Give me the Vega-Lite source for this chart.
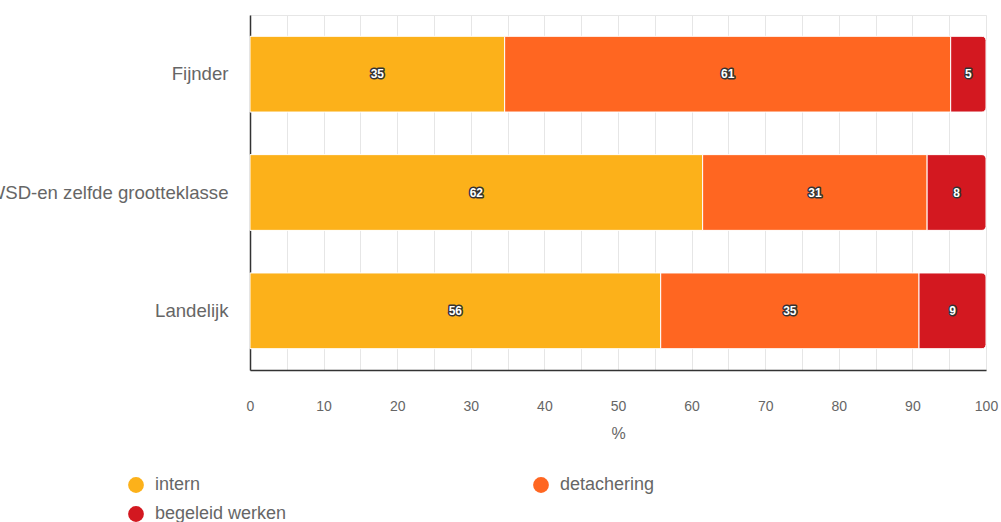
{
  "$schema": "https://vega.github.io/schema/vega-lite/v6.json",
  "width": 736,
  "height": 355,
  "autosize": {"type": "none"},
  "padding": {"left": 250, "top": 15, "right": 15, "bottom": 152},
  "background": "white",
  "config": {
    "font": "Liberation Sans",
    "view": {"stroke": "#e6e6e6", "strokeWidth": 1},
    "axisX": {
      "title": "%",
      "values": [0,2,4,6,8,10,12,14,16,18,20,22,24,26,28,30,32,34,36,38,40,42,44,46,48,50,52,54,56,58,60,62,64,66,68,70,72,74,76,78,80,82,84,86,88,90,92,94,96,98,100],
      "labelExpr": "datum.value % 10 === 0 ? datum.label : ''",
      "tickOpacity": {"condition": {"test": "datum.value % 10 === 0", "value": 1}, "value": 0},
      "tickColor": "#333333",
      "tickSize": 13,
      "tickWidth": 1.5,
      "domainColor": "#333333",
      "domainWidth": 1.5,
      "grid": true,
      "gridColor": "#e6e6e6",
      "labelFontSize": 14,
      "labelColor": "#666666",
      "labelPadding": 16,
      "labelFlush": false,
      "labelOverlap": false,
      "titleFontSize": 16,
      "titleFontWeight": "normal",
      "titleColor": "#666666",
      "titlePadding": 12
    }
  },
  "data": {
    "values": [
      {"cat": "Fijnder", "type": "intern", "value": 34.6},
      {"cat": "Fijnder", "type": "detachering", "value": 60.6},
      {"cat": "Fijnder", "type": "begeleid werken", "value": 4.8},
      {"cat": "WSD-en zelfde grootteklasse", "type": "intern", "value": 61.5},
      {"cat": "WSD-en zelfde grootteklasse", "type": "detachering", "value": 30.5},
      {"cat": "WSD-en zelfde grootteklasse", "type": "begeleid werken", "value": 8.0},
      {"cat": "Landelijk", "type": "intern", "value": 55.8},
      {"cat": "Landelijk", "type": "detachering", "value": 35.1},
      {"cat": "Landelijk", "type": "begeleid werken", "value": 9.1}
    ]
  },
  "transform": [
    {"stack": "value", "groupby": ["cat"], "sort": [{"field": "type", "order": "descending"}], "as": ["v0", "v1"]},
    {"calculate": "(datum.v0 + datum.v1) / 2", "as": "mid"}
  ],
  "encoding": {
    "y": {
      "field": "cat",
      "type": "nominal",
      "sort": ["Fijnder", "WSD-en zelfde grootteklasse", "Landelijk"],
      "scale": {"paddingInner": 0.36, "paddingOuter": 0.18},
      "axis": {
        "title": null,
        "ticks": false,
        "domainColor": "#333333",
        "domainWidth": 1.5,
        "labelFontSize": 18.6,
        "labelColor": "#666666",
        "labelPadding": 22,
        "labelLimit": 500
      }
    }
  },
  "layer": [
    {
      "transform": [{"filter": "datum.type !== 'begeleid werken'"}],
      "mark": {"type": "bar", "stroke": "white", "strokeWidth": 1},
      "encoding": {
        "x": {
          "field": "v0",
          "type": "quantitative",
          "title": "%",
          "scale": {"domain": [0, 100], "nice": false}
        },
        "x2": {"field": "v1"},
        "color": {
          "field": "type",
          "type": "nominal",
          "scale": {
            "domain": ["intern", "detachering", "begeleid werken"],
            "range": ["#FCB11A", "#FF6621", "#D31820"]
          },
          "legend": {
            "title": null,
            "orient": "none",
            "legendX": -123,
            "legendY": 461,
            "direction": "horizontal",
            "columns": 2,
            "columnPadding": 245,
            "rowPadding": 11,
            "symbolType": "circle",
            "symbolSize": 250,
            "symbolStrokeWidth": 0,
            "symbolOpacity": 1,
            "labelFontSize": 18,
            "labelColor": "#666666",
            "labelOffset": 10,
            "labelLimit": 400
          }
        }
      }
    },
    {
      "transform": [{"filter": "datum.type === 'begeleid werken'"}],
      "mark": {"type": "bar", "stroke": "white", "strokeWidth": 1, "cornerRadiusTopRight": 4, "cornerRadiusBottomRight": 4},
      "encoding": {
        "x": {"field": "v0", "type": "quantitative", "title": "%"},
        "x2": {"field": "v1"},
        "color": {"field": "type", "type": "nominal"}
      }
    },
    {
      "mark": {"type": "text", "fontSize": 12, "fontWeight": "bold", "fill": "#333333", "stroke": "#333333", "strokeWidth": 3, "strokeJoin": "round"},
      "encoding": {
        "x": {"field": "mid", "type": "quantitative", "title": "%"},
        "text": {"field": "value", "type": "quantitative", "format": ".0f"}
      }
    },
    {
      "mark": {"type": "text", "fontSize": 12, "fontWeight": "bold", "fill": "white"},
      "encoding": {
        "x": {"field": "mid", "type": "quantitative", "title": "%"},
        "text": {"field": "value", "type": "quantitative", "format": ".0f"}
      }
    }
  ]
}
